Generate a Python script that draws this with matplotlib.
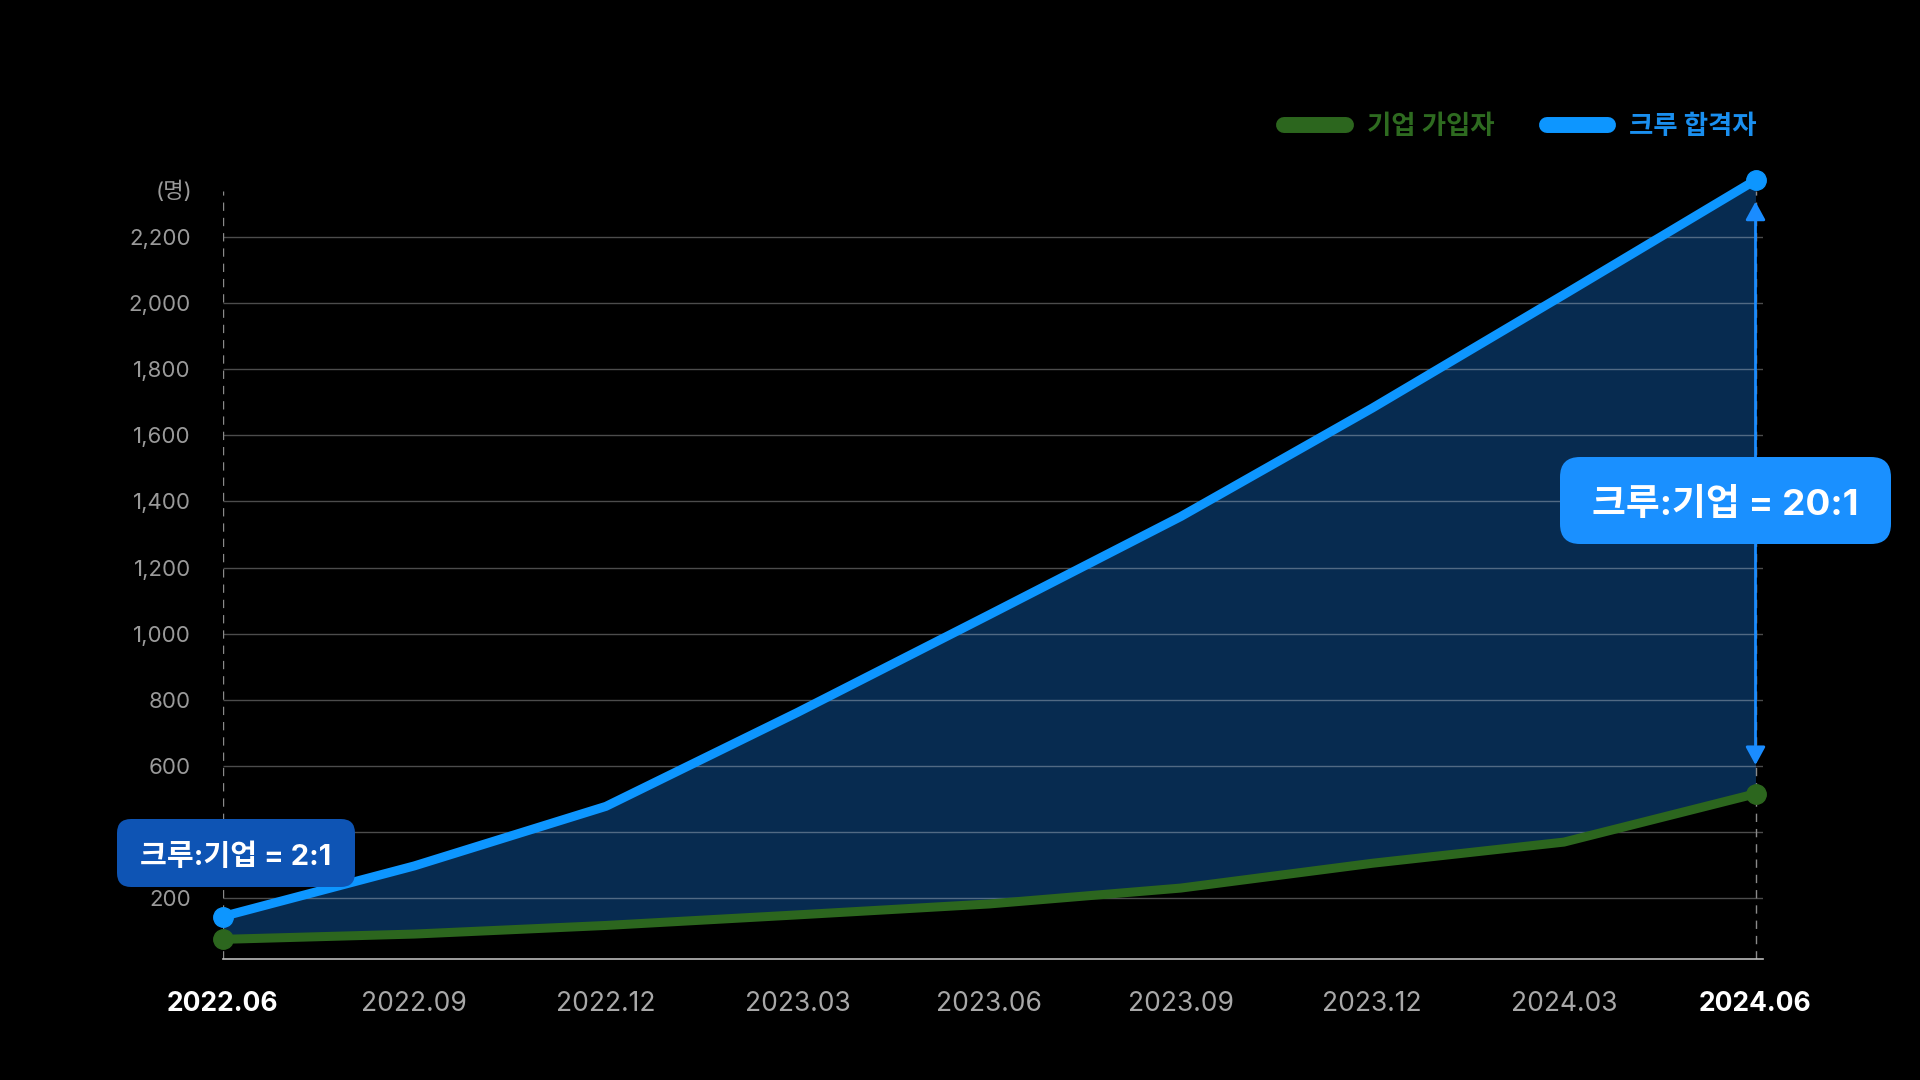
import matplotlib.pyplot as plt
from matplotlib.patches import FancyBboxPatch
from matplotlib.lines import Line2D

plt.rcParams['font.family'] = ['Inter', 'Noto Sans CJK KR', 'DejaVu Sans']

# data
periods = ['2022.06', '2022.09', '2022.12', '2023.03', '2023.06',
           '2023.09', '2023.12', '2024.03', '2024.06']
crew_passed = [145, 298, 478, 762, 1057, 1354, 1682, 2025, 2371]
company_joined = [76, 92, 118, 150, 183, 231, 306, 370, 516]
y_ticks = [200, 400, 600, 800, 1000, 1200, 1400, 1600, 1800, 2000, 2200]
legend_names = ['기업 가입자', '크루 합격자']

BLUE = '#0D96FF'
GREEN = '#2C661E'
FILL = '#072B50'
BG = 'black'

W, H = 1920, 1080
fig = plt.figure(figsize=(W / 100, H / 100), dpi=100, facecolor=BG)

# axes placed so x=0 -> 222px, x=8 -> 1755px, y=0 -> 964px from top
px_per_x = 191.6
px_per_y = 0.3308
y_bottom, y_top = 16.6, 2420
x_right = 8.04
left = 222.7 / W
bottom = (H - 959) / H
ax = fig.add_axes([left, bottom, x_right * px_per_x / W,
                   (y_top - y_bottom) * px_per_y / H])
ax.set_facecolor(BG)
ax.set_xlim(0, x_right)
ax.set_ylim(y_bottom, y_top)

x = list(range(len(periods)))

ax.fill_between(x, company_joined, crew_passed, color=FILL, lw=0, zorder=1)
ax.hlines(y_ticks, 0, x_right, color='white', alpha=0.3, lw=1, zorder=2)
ax.vlines([0, 8], y_bottom, 2339, color='#8a8a8a', lw=1,
          linestyles=(0, (6, 5)), zorder=2)

ax.plot(x, company_joined, color=GREEN, lw=6.5, solid_joinstyle='round',
        solid_capstyle='round', zorder=3)
ax.plot(x, crew_passed, color=BLUE, lw=6.5, solid_joinstyle='round',
        solid_capstyle='round', zorder=4)
ax.plot([x[0], x[-1]], [company_joined[0], company_joined[-1]], 'o',
        color=GREEN, ms=14, zorder=5, clip_on=False)
ax.plot([x[0], x[-1]], [crew_passed[0], crew_passed[-1]], 'o',
        color=BLUE, ms=14, zorder=5, clip_on=False)

# gap arrow at the last period
ax.annotate('', xy=(8, 2306), xytext=(8, 603),
            arrowprops=dict(arrowstyle='<|-|>,head_length=0.55,head_width=0.3',
                            color='#1A8CFF', lw=2, shrinkA=0, shrinkB=0,
                            mutation_scale=20), zorder=6)

for s in ['top', 'right', 'left']:
    ax.spines[s].set_visible(False)
ax.spines['bottom'].set_color('#bbbbbb')
ax.spines['bottom'].set_linewidth(1.2)

# the 400 label sits under the 2:1 box in the reference
ax.set_yticks(y_ticks)
ax.set_yticklabels(['' if v == 400 else f'{v:,}' for v in y_ticks])
ax.tick_params(axis='y', length=0, pad=23, labelsize=16, labelcolor='#9a9a9a')
ax.set_xticks(x)
ax.set_xticklabels(periods)
ax.tick_params(axis='x', length=0, pad=23, labelsize=19, labelcolor='#a8a8a8')
for i, lab in enumerate(ax.get_xticklabels()):
    if i in (0, len(periods) - 1):
        lab.set_color('white')
        lab.set_fontweight('bold')

fig.text(192 / W, 1 - 191 / H, '(명)', ha='right', va='center',
         color='#9a9a9a', fontsize=16)

# legend
for (x0, x1, tx), name, c, tc in zip([(1284, 1346, 1367), (1547, 1608, 1629)],
                                     legend_names, [GREEN, BLUE],
                                     ['#2E6B20', '#1A8FEF']):
    fig.add_artist(Line2D([x0 / W, x1 / W], [1 - 125 / H, 1 - 125 / H],
                          transform=fig.transFigure, color=c, lw=11.5,
                          solid_capstyle='round'))
    fig.text(tx / W, 1 - 127 / H, name, ha='left', va='center', color=tc,
             fontsize=19, fontweight='bold')


def label_box(x0, y0, x1, y1, r, color, text, size):
    # pixel box, y measured from top of image
    fig.add_artist(FancyBboxPatch((x0, H - y1), x1 - x0, y1 - y0,
                                  boxstyle=f'round,pad=0,rounding_size={r}',
                                  fc=color, ec='none', transform=None, zorder=10))
    fig.text((x0 + x1) / 2 / W, 1 - ((y0 + y1) / 2 + 4) / H, text, ha='center',
             va='center', color='white', fontsize=size, fontweight='bold',
             zorder=11)


label_box(1560, 457, 1891, 544, 20, '#1A90FF', '크루:기업 = 20:1', 26.5)
label_box(117, 819, 355, 887, 14, '#0E54B4', '크루:기업 = 2:1', 21)

fig.savefig('out.png', dpi=100, facecolor=BG)
